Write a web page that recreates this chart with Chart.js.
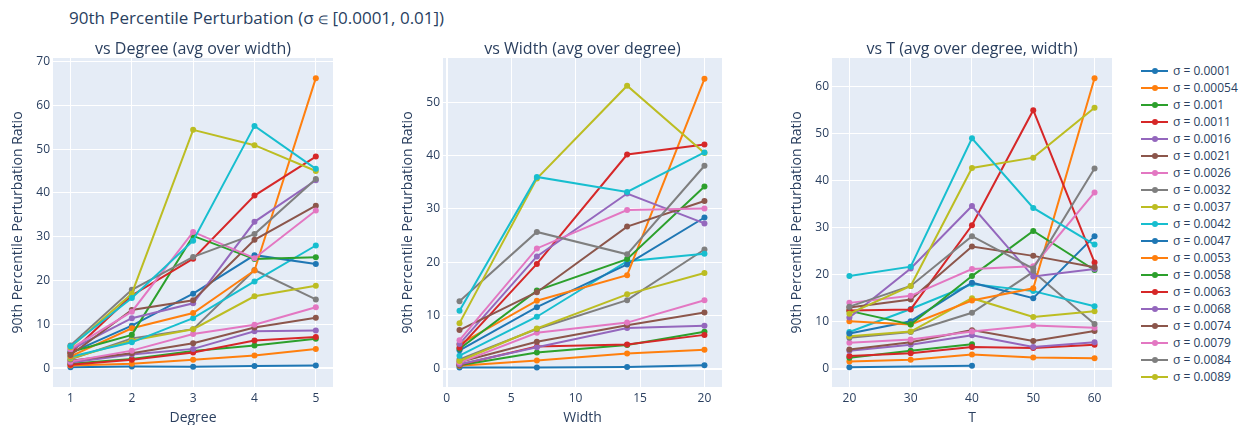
<!DOCTYPE html>
<html>
<head>
<meta charset="utf-8">
<script src="https://cdn.jsdelivr.net/npm/chart.js@4.4.1/dist/chart.umd.min.js"></script>
<style>
  html, body { margin: 0; padding: 0; background: #fff; }
  body { width: 1243px; height: 425px; position: relative; overflow: hidden;
         font-family: "Open Sans", verdana, arial, sans-serif; color: #2a3f5f; }
  #mainTitle { position: absolute; left: 69px; top: 7px; font-size: 17px; line-height: 22px; white-space: nowrap; }
  #mainTitle .sym { font-size: 12px; }
  canvas { position: absolute; }
  #legend { position: absolute; left: 1141px; top: 62px; font-size: 12px; }
  .item { height: 17px; display: flex; align-items: center; white-space: nowrap; }
  .swatch { position: relative; width: 27px; height: 17px; margin-right: 5px; flex: none; }
  .swatch .ln { position: absolute; left: 0; top: 7.5px; width: 27px; height: 2px; }
  .swatch .dt { position: absolute; left: 10.5px; top: 5.5px; width: 6px; height: 6px; border-radius: 50%; }
</style>
</head>
<body>
<div id="mainTitle">90th Percentile Perturbation (σ <span class="sym">∈</span> [0.0001, 0.01])</div>
<canvas id="cDegree"></canvas>
<canvas id="cWidth"></canvas>
<canvas id="cT"></canvas>
<div id="legend"></div>

<script>
// ---- data ----
const sigmaLabels = [
  'σ = 0.0001', 'σ = 0.00054', 'σ = 0.001', 'σ = 0.0011', 'σ = 0.0016',
  'σ = 0.0021', 'σ = 0.0026', 'σ = 0.0032', 'σ = 0.0037', 'σ = 0.0042',
  'σ = 0.0047', 'σ = 0.0053', 'σ = 0.0058', 'σ = 0.0063', 'σ = 0.0068',
  'σ = 0.0074', 'σ = 0.0079', 'σ = 0.0084', 'σ = 0.0089', 'σ = 0.0095'
];
const legendCount = 19;

const degreeX = [1, 2, 3, 4, 5];
const widthX = [1, 7, 14, 20];
const tX = [20, 30, 40, 50, 60];

// tick positions for each axis
const degreeXTicks = [1, 2, 3, 4, 5];
const degreeYTicks = [0, 10, 20, 30, 40, 50, 60, 70];
const widthXTicks = [0, 5, 10, 15, 20];
const widthYTicks = [0, 10, 20, 30, 40, 50];
const tXTicks = [20, 30, 40, 50, 60];
const tYTicks = [0, 10, 20, 30, 40, 50, 60];

// one row per σ, one column per x value
const degreeValues = [
  [0.2, 0.4, 0.3, 0.5, 0.6],
  [0.6, 1.0, 1.9, 2.9, 4.4],
  [1.0, 2.1, 3.9, 5.2, 6.7],
  [0.8, 1.9, 3.6, 6.3, 7.1],
  [1.3, 3.1, 4.4, 8.4, 8.6],
  [1.7, 3.4, 5.7, 9.3, 11.5],
  [1.5, 4.0, 7.8, 9.9, 13.9],
  [2.0, 6.8, 8.9, 22.4, 15.7],
  [2.2, 6.3, 8.9, 16.4, 18.8],
  [2.6, 5.9, 11.4, 19.8, 28.0],
  [3.5, 9.7, 17.0, 25.8, 23.8],
  [2.7, 9.1, 12.6, 22.3, 66.2],
  [3.7, 7.6, 30.2, 24.9, 25.3],
  [3.4, 16.6, 25.0, 39.4, 48.3],
  [4.2, 11.4, 14.8, 33.4, 42.9],
  [3.0, 13.3, 15.5, 29.3, 37.1],
  [4.4, 12.9, 31.1, 25.1, 36.0],
  [5.2, 17.9, 25.4, 30.6, 43.2],
  [4.8, 17.0, 54.4, 50.9, 45.0],
  [5.0, 16.0, 29.1, 55.3, 45.5]
];

const widthValues = [
  [0.3, 0.3, 0.4, 0.7],
  [0.6, 1.6, 2.9, 3.6],
  [0.7, 3.1, 4.5, 7.0],
  [0.8, 4.2, 4.6, 6.4],
  [0.9, 4.1, 7.7, 8.1],
  [1.3, 5.1, 8.2, 10.6],
  [1.2, 6.8, 8.7, 12.9],
  [1.8, 7.5, 12.9, 22.4],
  [1.5, 7.6, 14.0, 18.0],
  [2.5, 9.8, 20.2, 21.6],
  [3.5, 11.6, 19.6, 28.4],
  [4.6, 12.8, 17.6, 54.4],
  [3.8, 14.7, 20.6, 34.2],
  [4.0, 19.7, 40.2, 42.1],
  [4.7, 21.1, 32.9, 27.3],
  [7.3, 14.4, 26.7, 31.5],
  [5.4, 22.6, 29.8, 30.1],
  [12.7, 25.7, 21.5, 38.1],
  [8.6, 35.7, 53.1, 40.5],
  [10.9, 36.0, 33.2, 40.6]
];

const tValues = [
  [0.3, null, 0.6, null, null],
  [1.5, 1.9, 3.0, 2.4, 2.2],
  [2.3, 3.8, 5.2, null, null],
  [2.7, 3.3, 4.6, 4.4, 5.1],
  [3.8, 5.1, 7.1, 4.6, 5.6],
  [4.1, 5.6, 8.2, 5.9, 8.0],
  [5.5, 6.2, 7.9, 9.2, 8.7],
  [6.6, 7.8, 11.9, 20.6, 9.5],
  [6.9, 7.9, 15.0, 11.0, 12.2],
  [7.8, 12.7, 18.0, 16.5, 13.3],
  [7.5, 10.1, 18.3, 15.0, 28.2],
  [10.1, 9.4, 14.5, 17.1, 61.8],
  [12.3, 9.4, 19.7, 29.3, 21.0],
  [12.4, 12.6, 30.5, 55.0, 22.6],
  [10.9, 21.3, 34.6, 19.6, 21.2],
  [13.0, 14.7, 26.0, 24.0, 21.6],
  [14.0, 15.5, 21.2, 21.8, 37.5],
  [13.2, 17.6, 28.2, 21.3, 42.6],
  [11.7, 17.6, 42.7, 44.9, 55.5],
  [19.7, 21.7, 49.0, 34.2, 26.4]
];

const palette = ['#1f77b4', '#ff7f0e', '#2ca02c', '#d62728', '#9467bd',
                 '#8c564b', '#e377c2', '#7f7f7f', '#bcbd22', '#17becf'];

// ---- drawing ----
const FONT = '"Open Sans", verdana, arial, sans-serif';
const INK = '#2a3f5f';
const Y_AXIS_W = 53;
const X_AXIS_H = 38;
const CANVAS_TOP = 30;
const CANVAS_H = 395;

const plotBg = {
  id: 'plotBg',
  beforeDraw(chart) {
    const a = chart.chartArea;
    const ctx = chart.ctx;
    ctx.save();
    ctx.fillStyle = '#E5ECF6';
    ctx.fillRect(a.left, a.top, a.right - a.left, a.bottom - a.top);
    ctx.restore();
  }
};

function gridStyle() {
  return {
    color: '#ffffff',
    lineWidth: c => (c.tick && c.tick.value === 0 ? 2 : 1),
    drawTicks: false
  };
}

function fixedTicks(values) {
  return s => { s.ticks = values.map(v => ({ value: v })); };
}

function makeChart(id, plotLeft, plotRight, title, xs, values, xCfg, yCfg, xTitle) {
  const canvas = document.getElementById(id);
  const left = plotLeft - Y_AXIS_W;
  const w = plotRight - left;
  canvas.width = w;
  canvas.height = CANVAS_H;
  canvas.style.left = left + 'px';
  canvas.style.top = CANVAS_TOP + 'px';
  canvas.style.width = w + 'px';
  canvas.style.height = CANVAS_H + 'px';

  const datasets = values.map((row, i) => ({
    label: sigmaLabels[i],
    data: xs.map((x, j) => ({ x: x, y: row[j] })),
    borderColor: palette[i % palette.length],
    backgroundColor: palette[i % palette.length],
    borderWidth: 2,
    pointRadius: 3,
    pointBorderWidth: 0,
    pointHoverRadius: 3,
    spanGaps: true,
    tension: 0,
    order: values.length - i
  }));

  return new Chart(canvas, {
    type: 'line',
    data: { datasets },
    plugins: [plotBg],
    options: {
      responsive: false,
      animation: false,
      devicePixelRatio: 1,
      layout: { padding: 0 },
      plugins: {
        legend: { display: false },
        tooltip: { enabled: false },
        title: {
          display: true,
          text: title,
          fullSize: false,
          color: INK,
          font: { family: FONT, size: 16, weight: 'normal', lineHeight: 1 },
          padding: { top: 11, bottom: 1 }
        }
      },
      scales: {
        x: {
          type: 'linear',
          min: xCfg.min, max: xCfg.max,
          grid: gridStyle(),
          border: { display: false },
          afterBuildTicks: fixedTicks(xCfg.ticks),
          ticks: { color: INK, font: { family: FONT, size: 12 }, padding: 4, maxRotation: 0,
                   autoSkip: false },
          title: { display: true, text: xTitle, color: INK,
                   font: { family: FONT, size: 14, lineHeight: 1 }, padding: { top: 0, bottom: 0 } },
          afterFit: s => { s.height = X_AXIS_H; }
        },
        y: {
          type: 'linear',
          min: yCfg.min, max: yCfg.max,
          grid: gridStyle(),
          border: { display: false },
          afterBuildTicks: fixedTicks(yCfg.ticks),
          ticks: { color: INK, font: { family: FONT, size: 12 }, padding: 3, autoSkip: false },
          title: { display: true, text: '90th Percentile Perturbation Ratio', color: INK,
                   font: { family: FONT, size: 14, lineHeight: 1 }, padding: { top: 11, bottom: 0 } },
          afterFit: s => { s.width = Y_AXIS_W; }
        }
      }
    }
  });
}

makeChart('cDegree', 53, 336, 'vs Degree (avg over width)', degreeX, degreeValues,
  { min: 0.715, max: 5.28, ticks: degreeXTicks },
  { min: -4.3, max: 70.8, ticks: degreeYTicks }, 'Degree');
makeChart('cWidth', 443, 725, 'vs Width (avg over degree)', widthX, widthValues,
  { min: -0.28, max: 21.36, ticks: widthXTicks },
  { min: -3.37, max: 58.3, ticks: widthYTicks }, 'Width');
makeChart('cT', 832, 1115, 'vs T (avg over degree, width)', tX, tValues,
  { min: 17.16, max: 62.85, ticks: tXTicks },
  { min: -3.9, max: 66.1, ticks: tYTicks }, 'T');

// legend
const legendEl = document.getElementById('legend');
for (let i = 0; i < legendCount; i++) {
  const c = palette[i % palette.length];
  const item = document.createElement('div');
  item.className = 'item';
  item.innerHTML = '<span class="swatch"><span class="ln" style="background:' + c +
    '"></span><span class="dt" style="background:' + c + '"></span></span><span>' +
    sigmaLabels[i] + '</span>';
  legendEl.appendChild(item);
}
</script>
</body>
</html>
